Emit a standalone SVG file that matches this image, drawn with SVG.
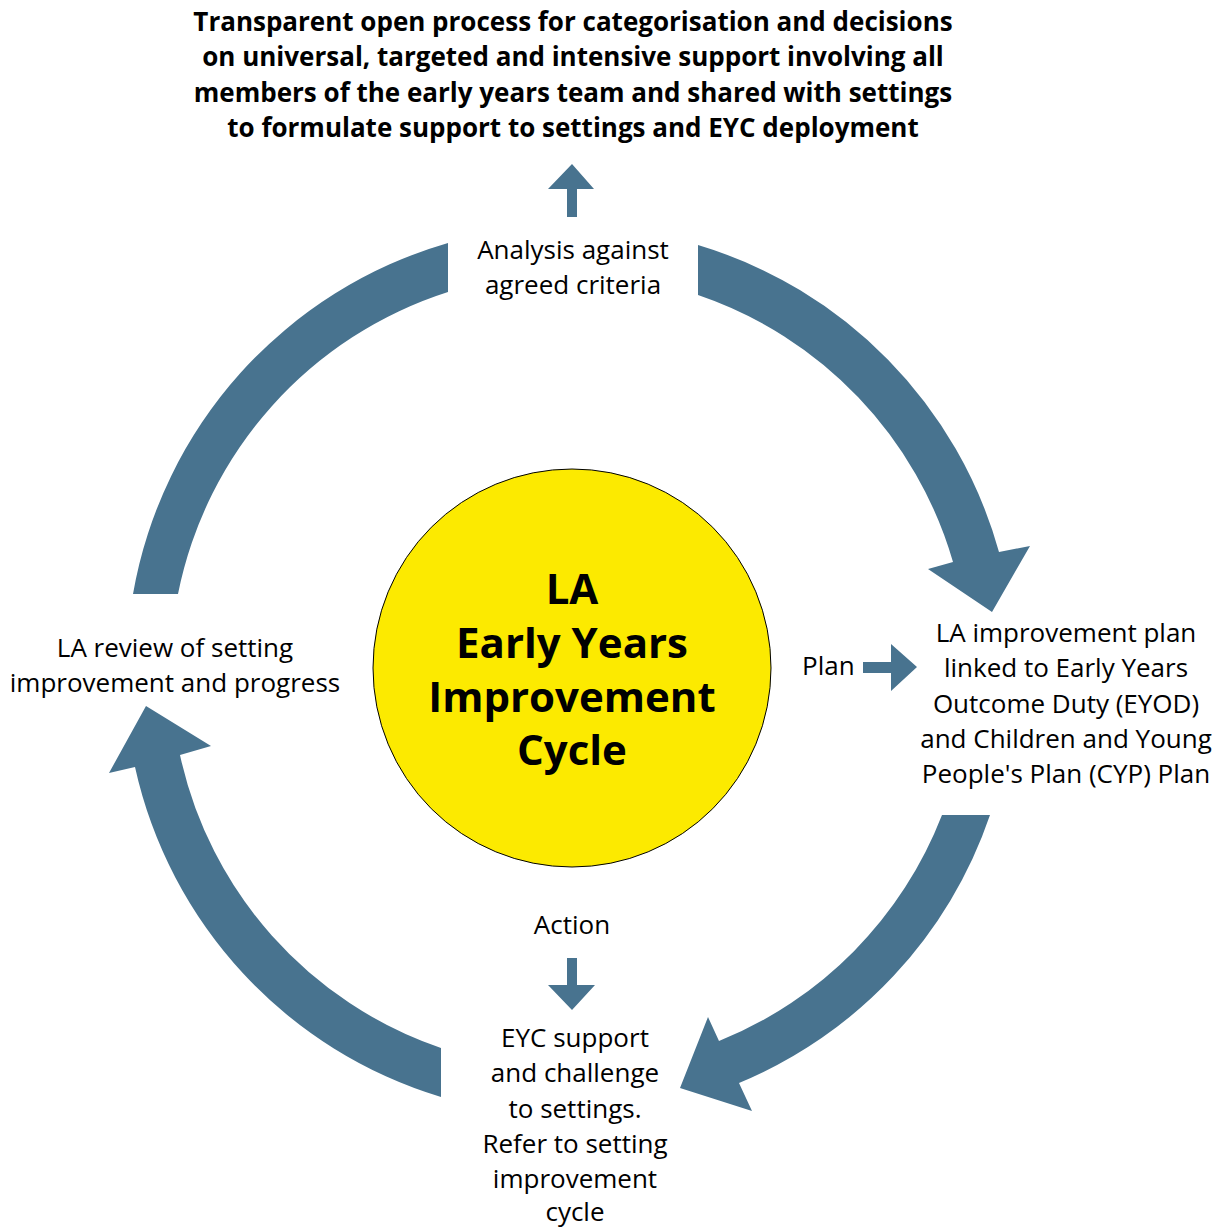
<svg xmlns="http://www.w3.org/2000/svg" width="1225" height="1227" viewBox="0 0 1225 1227">
<style>
.arr{fill:#48738F;stroke:none}
.t{font-family:"Open Sans","Noto Sans","Liberation Sans",sans-serif;font-size:26px;fill:#000;text-anchor:middle}
.tb{font-family:"Open Sans","Noto Sans","Liberation Sans",sans-serif;font-size:26px;font-weight:bold;fill:#000;text-anchor:middle}
.c{font-family:"Open Sans","Noto Sans","Liberation Sans",sans-serif;font-size:42px;font-weight:bold;fill:#000;text-anchor:middle}
</style>
<rect width="1225" height="1227" fill="#fff"/>
<g id="connectors">
<path class="arr" d="M133,594 A445,445 0 0 1 448,243 L448,292 A399,399 0 0 0 178,594 Z"/>
<path class="arr" d="M698,245 A445,445 0 0 1 999,552 L1030,546 L992,612 L928,569 L953,562 A399,399 0 0 0 698,295 Z"/>
<path class="arr" d="M990,815 A445,445 0 0 1 739,1083 L752,1111 L680,1088 L708,1017 L719,1041 A399,399 0 0 0 942,815 Z"/>
<path class="arr" d="M441,1097 A445,445 0 0 1 135,767 L109,773 L146,706 L211,746 L180,755 A399,399 0 0 0 441,1048 Z"/>
<path class="arr" d="M567,217 L567,189 L548,189 L572,164 L594,189 L577,189 L577,217 Z"/>
<path class="arr" d="M863,662 L891,662 L891,644 L917,667 L891,691 L891,673 L863,673 Z"/>
<path class="arr" d="M567,958 L577,958 L577,985 L595,985 L572,1010 L548,985 L567,985 Z"/>
</g>
<g id="title">
<text class="tb" x="573" y="31">Transparent open process for categorisation and decisions</text>
<text class="tb" x="573" y="66">on universal, targeted and intensive  support involving all</text>
<text class="tb" x="573" y="102">members of the early years team and shared with settings</text>
<text class="tb" x="573" y="137">to formulate support to settings and EYC deployment</text>
</g>
<g id="center">
<circle cx="572" cy="668" r="199" fill="#FCEA00" stroke="#000" stroke-width="1"/>
<text class="c" x="572" y="604">LA</text>
<text class="c" x="572" y="658">Early Years</text>
<text class="c" x="572" y="712">Improvement</text>
<text class="c" x="572" y="765">Cycle</text>
</g>
<g id="analysis">
<text class="t" x="573" y="259">Analysis against</text>
<text class="t" x="573" y="294">agreed criteria</text>
</g>
<g id="plan">
<text class="t" x="1066" y="642">LA improvement plan</text>
<text class="t" x="1066" y="677">linked to Early Years</text>
<text class="t" x="1066" y="713">Outcome Duty (EYOD)</text>
<text class="t" x="1066" y="748">and Children and Young</text>
<text class="t" x="1066" y="783">People's Plan (CYP) Plan</text>
</g>
<g id="plan-label"><text class="t" x="802" y="675" style="text-anchor:start">Plan</text></g>
<g id="action-label"><text class="t" x="572" y="934">Action</text></g>
<g id="support">
<text class="t" x="575" y="1047">EYC support</text>
<text class="t" x="575" y="1082">and challenge</text>
<text class="t" x="575" y="1118">to settings.</text>
<text class="t" x="575" y="1153">Refer to setting</text>
<text class="t" x="575" y="1188">improvement</text>
<text class="t" x="575" y="1221">cycle</text>
</g>
<g id="review">
<text class="t" x="175" y="657">LA review of setting</text>
<text class="t" x="175" y="692">improvement and progress</text>
</g>
</svg>
